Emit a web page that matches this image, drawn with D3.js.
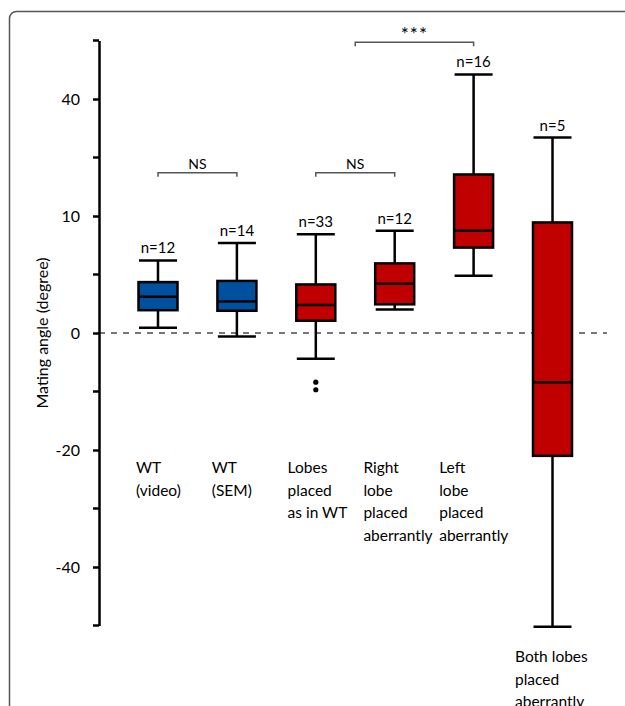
<!DOCTYPE html>
<html>
<head>
<meta charset="utf-8">
<script src="https://cdn.jsdelivr.net/npm/d3@7"></script>
<style>
  body { margin: 0; background: #fff; }
  svg { display: block; font-family: Lato, "Open Sans", sans-serif; }
</style>
</head>
<body>
<div id="viz"></div>
<script>
// groups, left to right
const categories = ["WT (video)", "WT (SEM)", "Lobes WT", "Right", "Left", "Both"];
const labelLines = [
  ["WT", "(video)"],
  ["WT", "(SEM)"],
  ["Lobes", "placed", "as in WT"],
  ["Right", "lobe", "placed", "aberrantly"],
  ["Left", "lobe", "placed", "aberrantly"],
  ["Both lobes", "placed", "aberrantly"]
];
const nCounts = [12, 14, 33, 12, 16, 5];
const boxColors = ["#0050a0", "#0050a0", "#c00000", "#c00000", "#c00000", "#c00000"];

// box stats (in axis units)
const whiskerHigh = [12.4, 15.4, 16.9, 17.5, 44.2, 33.4];
const q3 = [8.7, 8.9, 8.3, 11.9, 27.1, 18.9];
const medians = [6.2, 5.4, 4.8, 8.4, 17.5, -8.4];
const q1 = [3.9, 3.8, 2.1, 4.9, 14.6, -21.0];
const whiskerLow = [0.9, -0.6, -4.4, 4.0, 9.8, -50.2];
const outliers = [
  { group: "Lobes WT", value: -8.4 },
  { group: "Lobes WT", value: -9.7 }
];

// y axis: ticks as printed on the figure
const majorTicks = [40, 20, 0, -20, -40];
const majorTickLabels = ["40", "10", "0", "-20", "-40"];
const minorTicks = [50, 30, 10, -10, -30, -50];

// significance brackets
const brackets = [
  { from: ["WT (video)"], to: ["WT (SEM)"], level: 27.4, text: "NS" },
  { from: ["Lobes WT"], to: ["Right"], level: 27.4, text: "NS" },
  { from: ["Lobes WT", "Right"], to: ["Left"], level: 49.7, text: "***" }
];

const width = 625, height = 706;

const svg = d3.select("#viz").append("svg")
  .attr("width", width)
  .attr("height", height);

// outer frame (rounded corner, runs off the picture)
svg.append("rect")
  .attr("x", 9.5).attr("y", 11.5)
  .attr("width", 640).attr("height", 720)
  .attr("rx", 7)
  .attr("fill", "none")
  .attr("stroke", "#555")
  .attr("stroke-width", 1.5);

let y = d3.scaleLinear().domain([-50, 50]).range([625.5, 40.5]);
let x = d3.scalePoint().domain(categories).range([158, 552.5]);
let xLabel = d3.scalePoint().domain(categories).range([136, 515]);
let boxW = 39;

// zero line
svg.append("line")
  .attr("x1", 99).attr("x2", 607)
  .attr("y1", y(0)).attr("y2", y(0))
  .attr("stroke", "#777")
  .attr("stroke-width", 2)
  .attr("stroke-dasharray", "6,6");

// y axis
let yAxis = svg.append("g")
  .attr("transform", "translate(99,0)")
  .call(d3.axisLeft(y).tickValues(majorTicks)
    .tickFormat((d, i) => majorTickLabels[i])
    .tickSize(6).tickSizeOuter(0).tickPadding(13));
yAxis.select(".domain").attr("stroke", "#000").attr("stroke-width", 2.5);
yAxis.selectAll(".tick line").attr("stroke", "#000").attr("stroke-width", 2.5);
yAxis.selectAll(".tick text").attr("font-size", "16px").attr("fill", "#000")
  .attr("font-family", "Lato, sans-serif");

svg.append("g")
  .selectAll("line")
  .data(minorTicks)
  .join("line")
  .attr("x1", 93).attr("x2", 99)
  .attr("y1", d => y(d)).attr("y2", d => y(d))
  .attr("stroke", "#000").attr("stroke-width", 2.5);

svg.append("text")
  .attr("transform", `translate(48,${y(0)}) rotate(-90)`)
  .attr("text-anchor", "middle")
  .attr("font-size", "16px")
  .attr("fill", "#000")
  .text("Mating angle (degree)");

// boxes
let groups = svg.append("g")
  .selectAll("g")
  .data(categories)
  .join("g");

groups.append("line")
  .attr("x1", d => x(d)).attr("x2", d => x(d))
  .attr("y1", (d, i) => y(whiskerHigh[i]))
  .attr("y2", (d, i) => y(whiskerLow[i]))
  .attr("stroke", "#000").attr("stroke-width", 2.5);

groups.selectAll(".cap")
  .data((d, i) => [{ c: d, v: whiskerHigh[i] }, { c: d, v: whiskerLow[i] }])
  .join("line")
  .attr("class", "cap")
  .attr("x1", d => x(d.c) - 19).attr("x2", d => x(d.c) + 19)
  .attr("y1", d => y(d.v)).attr("y2", d => y(d.v))
  .attr("stroke", "#000").attr("stroke-width", 2.5);

groups.append("rect")
  .attr("x", d => x(d) - boxW / 2)
  .attr("width", boxW)
  .attr("y", (d, i) => y(q3[i]))
  .attr("height", (d, i) => y(q1[i]) - y(q3[i]))
  .attr("fill", (d, i) => boxColors[i])
  .attr("stroke", "#000").attr("stroke-width", 2.5);

groups.append("line")
  .attr("x1", d => x(d) - boxW / 2).attr("x2", d => x(d) + boxW / 2)
  .attr("y1", (d, i) => y(medians[i]))
  .attr("y2", (d, i) => y(medians[i]))
  .attr("stroke", "#000").attr("stroke-width", 2.5);

groups.append("text")
  .attr("x", d => x(d))
  .attr("y", (d, i) => y(whiskerHigh[i]) - 7)
  .attr("text-anchor", "middle")
  .attr("font-size", "15px")
  .attr("fill", "#000")
  .text((d, i) => "n=" + nCounts[i]);

svg.append("g")
  .selectAll("circle")
  .data(outliers)
  .join("circle")
  .attr("cx", d => x(d.group))
  .attr("cy", d => y(d.value))
  .attr("r", 2.6)
  .attr("fill", "#000");

// category labels
svg.append("g")
  .selectAll("text")
  .data(categories)
  .join("text")
  .attr("x", d => xLabel(d))
  .attr("y", (d, i) => i === 5 ? 662 : 473)
  .attr("font-size", "15.5px")
  .attr("fill", "#000")
  .selectAll("tspan")
  .data((d, i) => labelLines[i].map(t => ({ t, c: d })))
  .join("tspan")
  .attr("x", d => xLabel(d.c))
  .attr("dy", (d, j) => j === 0 ? 0 : 22.5)
  .text(d => d.t);

// brackets
function bx(list) {
  return d3.mean(list, c => x(c));
}
let br = svg.append("g")
  .selectAll("g")
  .data(brackets)
  .join("g");

br.append("path")
  .attr("d", d => {
    let x1 = bx(d.from), x2 = bx(d.to), yy = y(d.level);
    return `M${x1},${yy + 4}V${yy}H${x2}V${yy + 4}`;
  })
  .attr("fill", "none")
  .attr("stroke", "#555")
  .attr("stroke-width", 1.5);

br.append("text")
  .attr("x", d => (bx(d.from) + bx(d.to)) / 2)
  .attr("y", d => y(d.level) - (d.text === "***" ? 1 : 4))
  .attr("text-anchor", "middle")
  .attr("font-size", d => d.text === "***" ? "19px" : "14px")
  .attr("letter-spacing", d => d.text === "***" ? "1px" : null)
  .attr("fill", "#000")
  .text(d => d.text);
</script>
</body>
</html>
